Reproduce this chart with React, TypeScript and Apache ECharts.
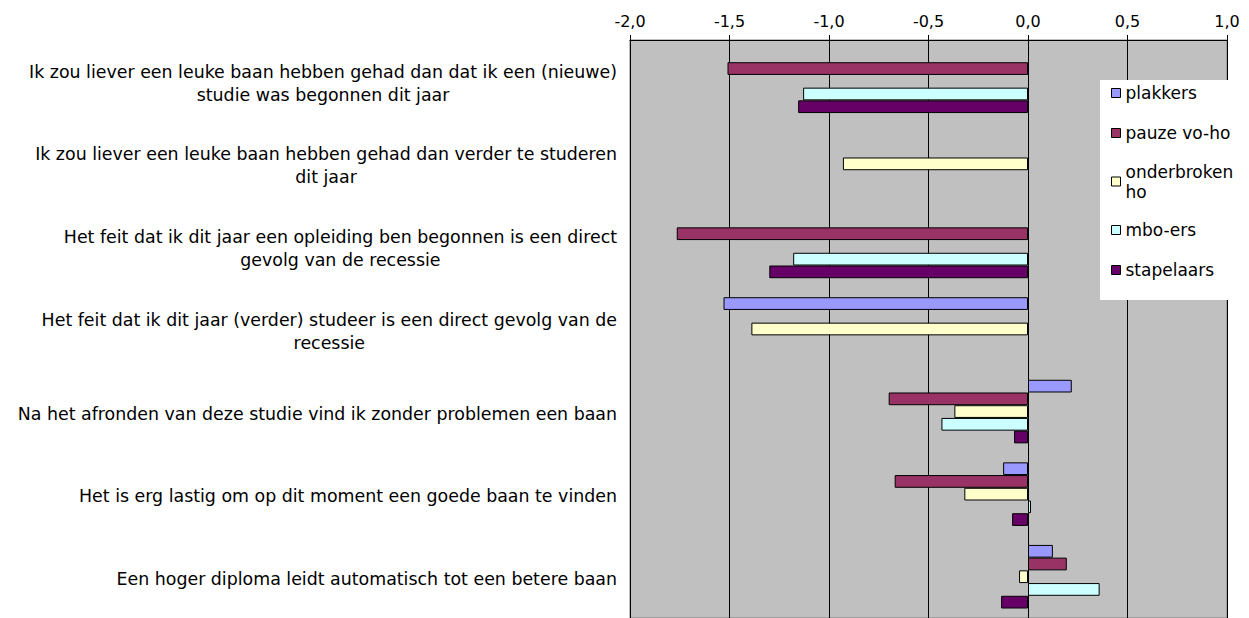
import React, { useEffect, useRef } from "react";
import * as echarts from "echarts";

const categories: string[] = [
  "Ik zou liever een leuke baan hebben gehad dan dat ik een (nieuwe)\nstudie was begonnen dit jaar",
  "Ik zou liever een leuke baan hebben gehad dan verder te studeren\ndit jaar",
  "Het feit dat ik dit jaar een opleiding ben begonnen is een direct\ngevolg van de recessie",
  "Het feit dat ik dit jaar (verder) studeer is een direct gevolg van de\nrecessie",
  "Na het afronden van deze studie vind ik zonder problemen een baan",
  "Het is erg lastig om op dit moment een goede baan te vinden",
  "Een hoger diploma leidt automatisch tot een betere baan",
];

const seriesNames: string[] = ["plakkers", "pauze vo-ho", "onderbroken ho", "mbo-ers", "stapelaars"];
const seriesColors: string[] = ["#9999FF", "#993366", "#FFFFCC", "#CCFFFF", "#660066"];

const plakkers: (number | null)[] = [null, null, null, -1.53, 0.22, -0.125, 0.125];
const pauzeVoHo: (number | null)[] = [-1.51, null, -1.765, null, -0.70, -0.67, 0.195];
const onderbrokenHo: (number | null)[] = [null, -0.93, null, -1.39, -0.37, -0.32, -0.045];
const mboErs: (number | null)[] = [-1.13, null, -1.18, null, -0.435, 0.015, 0.36];
const stapelaars: (number | null)[] = [-1.155, null, -1.30, null, -0.07, -0.08, -0.135];

const seriesValues = [plakkers, pauzeVoHo, onderbrokenHo, mboErs, stapelaars];

const FONT = "DejaVu Sans";

export default function App() {
  const ref = useRef<HTMLDivElement>(null);

  useEffect(() => {
    if (!ref.current) return;
    const chart = echarts.init(ref.current, undefined, { renderer: "svg" });
    const option: any = {
      animation: false,
      backgroundColor: "#FFFFFF",
      grid: {
        left: 630,
        top: 40,
        width: 597,
        height: 584,
        show: true,
        backgroundColor: "#C0C0C0",
        borderColor: "#808080",
        borderWidth: 1,
        containLabel: false,
      },
      xAxis: {
        type: "value",
        position: "top",
        min: -2,
        max: 1,
        interval: 0.5,
        axisLine: { show: true, lineStyle: { color: "#000", width: 1 } },
        axisTick: { show: true, length: 5, lineStyle: { color: "#000" } },
        splitLine: { show: true, lineStyle: { color: "#000", width: 1 } },
        axisLabel: {
          margin: 11,
          color: "#000",
          fontFamily: FONT,
          fontSize: 16,
          formatter: (v: number) => v.toFixed(1).replace(".", ","),
        },
      },
      yAxis: {
        type: "category",
        inverse: true,
        data: categories,
        axisLine: { show: false },
        axisTick: { show: false },
        splitLine: { show: false },
        axisLabel: {
          margin: 13,
          align: "right",
          padding: [4, 0, 0, 0],
          formatter: (v: string) =>
            v
              .split("\n")
              .map((l) => `{c|${l}}`)
              .join("\n"),
          rich: {
            c: {
              align: "center",
              fontFamily: FONT,
              fontSize: 17.4,
              lineHeight: 23,
              color: "#000",
            },
          },
        },
      },
      legend: {
        orient: "vertical",
        left: 1100,
        top: 80,
        backgroundColor: "#FFFFFF",
        padding: [3, 21, 20, 11],
        itemGap: 20,
        itemWidth: 9,
        itemHeight: 9,
        icon: "rect",
        itemStyle: { borderColor: "#000", borderWidth: 1 },
        textStyle: { fontFamily: FONT, fontSize: 17, color: "#000", lineHeight: 20 },
        formatter: (name: string) => (name === "onderbroken ho" ? "onderbroken\nho" : name),
        data: seriesNames.map((n) =>
          n === "onderbroken ho" ? { name: n, textStyle: { height: 20, lineHeight: 20 } } : { name: n }
        ),
      },
      series: seriesNames.map((name, i) => ({
        name,
        type: "bar",
        data: seriesValues[i],
        barGap: "0%",
        barCategoryGap: "23%",
        itemStyle: { color: seriesColors[i], borderColor: "#000", borderWidth: 1 },
      })),
    };
    chart.setOption(option);
    return () => chart.dispose();
  }, []);

  return (
    <div
      ref={ref}
      style={{ position: "fixed", left: 0, top: 0, width: 1249, height: 618 }}
    />
  );
}
